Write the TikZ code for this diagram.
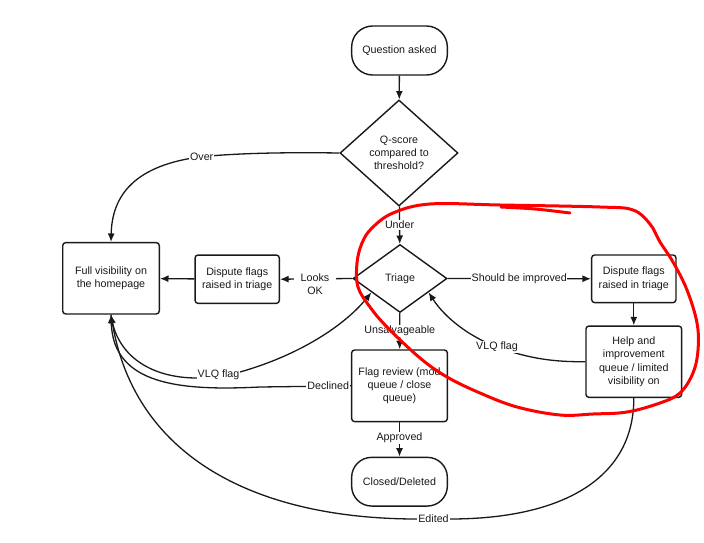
\documentclass[tikz,border=0pt]{standalone}
\usepackage{fontspec}
\setmainfont{Liberation Sans}
\usetikzlibrary{shapes.geometric,arrows.meta,calc}
\begin{document}
\begin{tikzpicture}[x=1pt,y=-1pt,
  every node/.style={font=\fontsize{10.7}{13.2}\selectfont, text=black!90},
  box/.style={draw=black!90, line width=1.4pt, rounded corners=3pt, align=center, inner sep=0pt},
  term/.style={draw=black!90, line width=1.4pt, rounded corners=21pt, align=center, inner sep=0pt},
  dia/.style={draw=black!90, diamond, line width=1.4pt, align=center, inner sep=0pt},
  conn/.style={draw=black!90, line width=1.3pt, -{Latex[length=8.5pt,width=7pt]}},
  lbl/.style={fill=white, inner sep=1pt},
  redmark/.style={draw=red, line width=3pt, line cap=round, line join=round}
]
\useasboundingbox (0,0) rectangle (704,543);

% nodes
\node[term, minimum width=95.7pt, minimum height=49pt] (qa) at (399.5,50.5) {Question asked};
\node[dia, minimum width=118pt, minimum height=106pt] (qs) at (399,153) {Q-score\\compared to\\threshold?};
\node[dia, minimum width=94pt, minimum height=68pt] (tr) at (400,278.5) {Triage};
\node[box, minimum width=96.6pt, minimum height=71.3pt] (fv) at (111,278.3) {Full visibility on\\the homepage};
\node[box, minimum width=84.3pt, minimum height=48.3pt] (dl) at (237.2,279.2) {Dispute flags\\raised in triage};
\node[box, minimum width=84.3pt, minimum height=47.7pt] (dr) at (633.8,278.8) {Dispute flags\\raised in triage};
\node[box, minimum width=95.7pt, minimum height=71.3pt] (hi) at (633.8,361.7) {Help and\\improvement\\queue / limited\\visibility on};
\node[box, minimum width=95.7pt, minimum height=71.7pt] (fr) at (399.5,385.8) {Flag review (mod\\queue / close\\queue)};
\node[term, minimum width=95.7pt, minimum height=48.7pt, rounded corners=20pt] (cd) at (399.5,481.7) {Closed/Deleted};

\coordinate (trsw) at ($(tr.west)!0.4!(tr.south)$);
\coordinate (trse) at ($(tr.east)!0.4!(tr.south)$);

% straight connectors
\draw[conn] (qa) -- (qs);
\draw[conn] (qs) -- node[lbl]{Under} (tr);
\draw[conn] (tr) -- node[lbl]{Unsalvageable} (fr);
\draw[conn] (fr) -- node[lbl, pos=0.45]{Approved} (cd);
\draw[conn] (tr) -- node[lbl, inner sep=0.5pt]{Should be improved} (dr);
\draw[conn] (dl) -- (fv);
\draw[conn] (dr) -- (hi);
\draw[conn] (tr.west) -- (dl.east);
\node[lbl, inner xsep=7pt, align=center] (lok) at (315,284) {Looks\\OK};

% curved connectors
\draw[conn] (qs.west) .. controls (270,152) and (230,154) .. (201.7,156.7)
  node[lbl] (lover) {Over}
  .. controls (135,165) and (112,195) .. (fv.north);
\draw[conn] (fv.south) .. controls (116,355) and (150,378) .. (197,378)
  -- node[lbl] (lvlq1) {VLQ flag} (240,372)
  .. controls (300,355) and (345,325) .. (trsw);
\draw[conn] (fr.west) -- node[lbl, pos=0.25] (ldec) {Declined} (260,387)
  .. controls (180,391) and (113,385) .. (fv.south);
\draw[conn] (hi.south) .. controls (634,480) and (560,519) .. (450,519)
  -- node[lbl] (ledit) {Edited} (417,519)
  .. controls (260,519) and (135,460) .. (fv.south);
\draw[conn] (hi.west) .. controls (555,362) and (530,359) .. (497,347)
  node[lbl] (lvlq2) {VLQ flag}
  .. controls (470,337) and (445,318) .. (trse);

% red hand-drawn loop
\draw[redmark] plot[smooth cycle, tension=0.6] coordinates {
  (430,204) (500,205) (600,207) (633,210) (650,224) (660,242) (673,262)
  (687,290) (697,323) (698,350) (693,373) (680,393) (660,403) (627,412)
  (593,414) (560,415) (517,407) (480,393) (447,377) (420,358) (387,327)
  (370,307) (358,287) (357,263) (362,243) (372,228) (393,213)};
\draw[redmark] plot[smooth, tension=0.6] coordinates {(501,207) (535,209) (570,213)};
\end{tikzpicture}
\end{document}
